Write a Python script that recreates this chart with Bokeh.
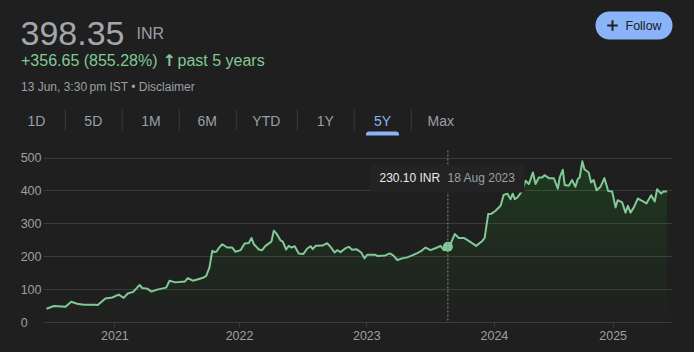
import numpy as np
from bokeh.plotting import figure
from bokeh.layouts import column
from bokeh.models import Range1d, FixedTicker, Label, BoxAnnotation, Span
from bokeh.embed import file_html
from bokeh.resources import INLINE

# ---------------- data ----------------
weeks = [0, 3.1, 8.0, 10.4, 12.9, 15.7, 19.9, 21.6, 24.8, 27.7, 30.4, 32.5, 34.2, 36.5,
         39.2, 40.3, 42.4, 44.2, 46.6, 50.4, 51.8, 54.3, 57.1, 58.2, 59.5, 61.6, 63.5,
         66.2, 67.2, 68.6, 69.8, 70.7, 71.6, 72.5, 74.0, 76.1, 78.2, 79.6, 81.7, 83.4,
         85.2, 86.3, 87.3, 89.4, 90.8, 92.2, 94.7, 95.7, 96.8, 98.5, 99.5, 100.9, 102.0,
         103.2, 104.5, 106.2, 108.1, 109.8, 111.2, 112.1, 113.3, 116.1, 118.2, 119.6,
         121.3, 122.4, 123.8, 125.9, 127.3, 128.7, 130.5, 132.5, 133.9, 135.0, 138.5,
         139.5, 142.7, 144.5, 146.0, 147.7, 149.8, 151.9, 154.0, 156.1, 157.5, 159.6,
         161.7, 164.5, 165.9, 167.3, 169.0, 170.1, 171.9, 173.6, 175.7, 177.8, 180.9,
         183.5, 184.5, 185.3, 186.0, 187.4, 189.1, 191.2, 192.5, 194.0, 195.4, 196.3,
         197.2, 198.2, 200.3, 201.7, 203.1, 204.8, 205.9, 207.3, 208.7, 209.7, 211.5,
         213.6, 215.3, 216.1, 217.4, 218.2, 219.9, 221.3, 222.7, 223.7, 224.5, 225.6,
         226.5, 228.3, 229.3, 230.4, 231.6, 233.3, 234.9, 236.5, 238.2, 239.6, 240.5,
         242.4, 243.8, 244.8, 245.9, 247.3, 249.0, 250.8, 252.6, 254.6, 256.1, 257.1,
         258.8, 259.7, 261.3]
prices = [41.7, 50, 48, 63, 57, 54, 54, 53, 73, 76, 85, 75, 88, 93,
          114, 105, 103, 94, 100, 106, 127, 122, 124, 124, 135, 127, 131,
          137, 141, 167, 218, 214, 216, 226, 238, 228, 228, 215, 220, 240,
          242, 257, 238, 222, 220, 233, 246, 279, 271, 250, 246, 222, 233,
          228, 232, 210, 208, 225, 232, 223, 233, 234, 241, 230,
          213, 220, 214, 226, 230, 221, 223, 213, 195, 206, 206,
          202, 204, 210, 204, 190, 195, 198, 204, 211, 216, 228,
          220, 228, 233, 220, 230.10, 238, 269, 257, 257, 248, 233,
          248, 257, 297, 330, 331, 340, 355, 388, 392, 375, 392,
          375, 380, 400, 431, 421, 456, 421, 441, 441, 448, 439,
          439, 407, 441, 464, 418, 416, 433, 413, 436, 441, 490,
          466, 456, 426, 433, 402, 413, 439, 400, 398, 350, 372,
          365, 334, 355, 334, 350, 377, 370, 362, 387, 368, 405,
          392, 398, 398.35]
year_ticks = [28.8, 81.3, 134.9, 188.6, 238.6]
year_labels = ["2021", "2022", "2023", "2024", "2025"]
y_ticks = [0, 100, 200, 300, 400, 500]
price_text = "398.35"
currency = "INR"
change_text = "+356.65 (855.28%)"
period_text = "past 5 years"
stamp_text = "13 Jun, 3:30\u2009pm IST \u2022 Disclaimer"
hover_week = 169.0
hover_price = 230.10
hover_date = "18 Aug 2023"
tabs = ["1D", "5D", "1M", "6M", "YTD", "1Y", "5Y", "Max"]
active_tab = "5Y"

# ---------------- layout ----------------
W = 694
HH = 150          # header height
CH = 202          # chart figure height
FL, FR, FB = 43, 22, 30
BG = "#1f1f1f"
GRID = "#3a3a3a"
GREY = "#9aa0a6"
GREEN = "#81c995"
FILL = "#3fae60"
BLUE = "#8ab4f8"
FONT = "Liberation Sans"
STY = {"background-color": BG}

# ---------- header figure (pixel coordinates, y downwards) ----------
h = figure(width=W, height=HH, output_backend="svg", toolbar_location=None,
           x_range=Range1d(0, W), y_range=Range1d(HH, 0),
           x_axis_location=None, y_axis_location=None,
           min_border=0, background_fill_color=BG, border_fill_color=BG,
           outline_line_color=None, frame_align=False, styles=STY)
h.grid.visible = False


def lab(px, py, text, size, color, align="left", base="alphabetic", style="normal",
        font=FONT):
    h.add_layout(Label(x=px, y=py, text=text, text_font=font, text_font_size=size,
                       text_color=color, text_align=align, text_baseline=base,
                       text_font_style=style))


def box(l, r, t, b, color, radius=0):
    h.add_layout(BoxAnnotation(left=l, right=r, top=t, bottom=b,
                               fill_color=color, fill_alpha=1, line_color=None,
                               border_radius=radius))


lab(20, 33, price_text, "34px", "#a3a7ab")
lab(136, 33, currency, "16px", GREY)
lab(20.5, 60, change_text, "16px", GREEN)
lab(162, 60, "\u2191", "16px", GREEN, style="bold", font="DejaVu Sans")
lab(177, 60, period_text, "16px", GREEN)
lab(20.5, 86, stamp_text, "12px", GREY)

tab_x = [36, 92.8, 150.5, 206.7, 265.8, 324.7, 382, 440.3]
for tx, t in zip(tab_x, tabs):
    lab(tx, 120, t, "14px", BLUE if t == active_tab else GREY, align="center", base="middle")
for sxp in [64.3, 121.3, 178.3, 235.3, 296.3, 353.3, 410.3]:
    box(sxp, sxp + 1, 109, 130, "#3a3a3a")
i = tabs.index(active_tab)
box(tab_x[i] - 16.5, tab_x[i] + 16.5, 131, 135, BLUE, radius=(3, 3, 0, 0))

box(595, 672, 11, 39, BLUE, radius=14)
box(606.7, 617.3, 24, 26, "#202124")
box(611, 613, 19.7, 30.3, "#202124")
lab(625, 25.5, "Follow", "12.5px", "#202124", base="middle")

# ---------- chart figure ----------
p = figure(width=W, height=CH, output_backend="svg", toolbar_location=None,
           x_range=Range1d(-1.263, 263.58), y_range=Range1d(0, 523),
           min_border_left=FL, min_border_right=FR, min_border_top=0,
           min_border_bottom=FB, background_fill_color=BG, border_fill_color=BG,
           outline_line_color=None, frame_align=False, styles=STY)


def sx(px):
    return px - FL


def sy(py):
    return (HH + CH - FB) - py


p.xaxis.ticker = FixedTicker(ticks=year_ticks)
p.xaxis.major_label_overrides = {t: l for t, l in zip(year_ticks, year_labels)}
p.xaxis.axis_line_color = GRID
p.xaxis.major_tick_line_color = GRID
p.xaxis.major_tick_out = 5
p.xaxis.major_tick_in = 0
p.xaxis.minor_tick_line_color = None
p.xaxis.major_label_text_color = GREY
p.xaxis.major_label_text_font = FONT
p.xaxis.major_label_text_font_size = "12.5px"
p.xaxis.major_label_standoff = 3

p.yaxis.ticker = FixedTicker(ticks=y_ticks)
p.yaxis.major_label_overrides = {0: "0\u2007\u2007"}
p.yaxis.axis_line_color = None
p.yaxis.major_tick_line_color = None
p.yaxis.major_tick_out = 0
p.yaxis.major_tick_in = 0
p.yaxis.minor_tick_line_color = None
p.yaxis.major_label_text_color = GREY
p.yaxis.major_label_text_font = FONT
p.yaxis.major_label_text_font_size = "12.5px"
p.yaxis.major_label_standoff = 2

p.xgrid.grid_line_color = None
p.ygrid.ticker = FixedTicker(ticks=y_ticks)
p.ygrid.grid_line_color = GRID

# gradient area (stacked translucent bands)
x = np.array(weeks)
y = np.array(prices)
for lvl in np.arange(0, 500, 20):
    p.varea(x=x, y1=lvl, y2=np.maximum(y, lvl), fill_color=FILL, fill_alpha=0.013)

p.line(x, y, line_color=GREEN, line_width=2, line_join="round")

p.add_layout(Span(location=hover_week, dimension="height", line_color="#8a8a8a",
                  line_dash="2 2", line_width=1))
p.scatter([hover_week], [hover_price], size=10, fill_color=GREEN, line_color=None)

p.add_layout(BoxAnnotation(left=sx(370), right=sx(524), top=sy(164), bottom=sy(192),
                           left_units="screen", right_units="screen",
                           bottom_units="screen", top_units="screen",
                           fill_color="#232323", fill_alpha=1, line_color=None))
p.add_layout(Label(x=sx(379), y=sy(177), x_units="screen", y_units="screen",
                   text=f"{hover_price:.2f} {currency}", text_font=FONT,
                   text_font_size="12px", text_color="#e8eaed",
                   text_baseline="middle", text_align="left"))
p.add_layout(Label(x=sx(447), y=sy(177), x_units="screen", y_units="screen",
                   text=hover_date, text_font=FONT, text_font_size="12px",
                   text_color=GREY, text_baseline="middle", text_align="left"))

layout = column(h, p, spacing=0, styles=STY)
open("out.html", "w").write(file_html(layout, INLINE))
